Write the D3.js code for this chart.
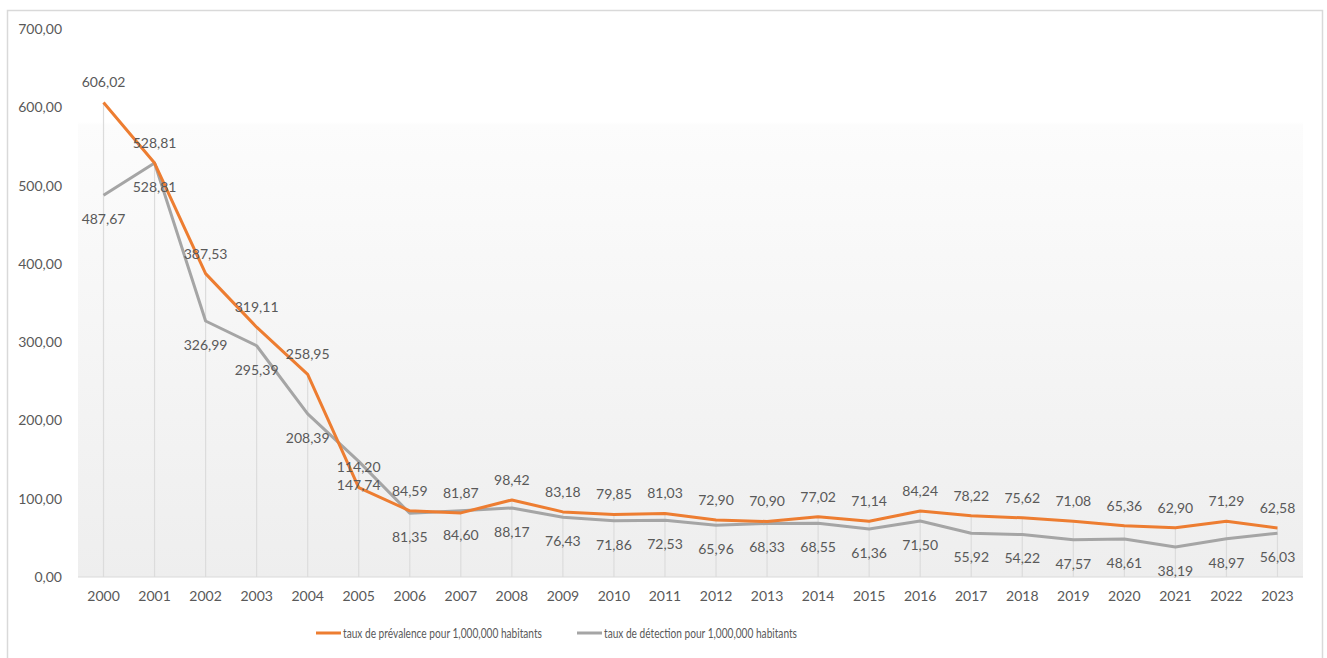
<!DOCTYPE html>
<html><head><meta charset="utf-8">
<script src="https://cdn.jsdelivr.net/npm/d3@7"></script>
<style>body{margin:0;background:#fff;}svg{display:block;font-family:Lato,"Open Sans",sans-serif;}</style>
</head><body><svg id="c" width="1327" height="658"></svg>
<script>
const years = ["2000","2001","2002","2003","2004","2005","2006","2007","2008","2009","2010","2011","2012","2013","2014","2015","2016","2017","2018","2019","2020","2021","2022","2023"];
const prevalence = [606.02,528.81,387.53,319.11,258.95,114.20,84.59,81.87,98.42,83.18,79.85,81.03,72.90,70.90,77.02,71.14,84.24,78.22,75.62,71.08,65.36,62.90,71.29,62.58];
const detection = [487.67,528.81,326.99,295.39,208.39,147.74,81.35,84.60,88.17,76.43,71.86,72.53,65.96,68.33,68.55,61.36,71.50,55.92,54.22,47.57,48.61,38.19,48.97,56.03];
const yTicks = [0,100,200,300,400,500,600,700];
const seriesNames = ["taux de prévalence pour 1,000,000 habitants","taux de détection pour 1,000,000 habitants"];
const colors = ["#ED7D31","#A5A5A5"];

(function(){
const svg = d3.select("#c");
const pl = 78, pr = 1303, pt = 29, pb = 577;
const x = d3.scaleBand().domain(years).range([pl, pr]);
const xc = d => x(d) + x.bandwidth()/2;
const y = d3.scaleLinear().domain([0,700]).range([pb, pt]);
const fmt = v => v.toFixed(2).replace(".", ",");
const textCol = "#595959";

svg.append("rect").attr("x",7.5).attr("y",10.5).attr("width",1315).attr("height",660)
  .attr("fill","#fff").attr("stroke","#d9d9d9").attr("stroke-width",1.5);

const defs = svg.append("defs");
const g = defs.append("linearGradient").attr("id","bg").attr("x1",0).attr("y1",0).attr("x2",0).attr("y2",1);
g.append("stop").attr("offset",0).attr("stop-color","#ffffff");
g.append("stop").attr("offset",0.17).attr("stop-color","#ffffff");
g.append("stop").attr("offset",0.175).attr("stop-color","#fcfcfc");
g.append("stop").attr("offset",1).attr("stop-color","#eeeeee");
svg.append("rect").attr("x",pl).attr("y",pt).attr("width",pr-pl).attr("height",pb-pt).attr("fill","url(#bg)");

svg.append("g").selectAll("line").data(years).join("line")
  .attr("x1",d=>xc(d)).attr("x2",d=>xc(d))
  .attr("y1",(d,i)=>y(Math.max(prevalence[i],detection[i]))).attr("y2",pb)
  .attr("stroke","#dcdcdc").attr("stroke-width",1.2);

svg.append("line").attr("x1",pl).attr("x2",pr).attr("y1",pb).attr("y2",pb)
  .attr("stroke","#d9d9d9").attr("stroke-width",1.2);

const ya = svg.append("g").attr("transform",`translate(62,0)`)
  .call(d3.axisLeft(y).tickValues(yTicks).tickFormat(fmt).tickSize(0).tickPadding(0));
ya.select(".domain").remove();
ya.selectAll("text").attr("fill",textCol).style("font-size","14px").style("font-family","Lato,'Open Sans',sans-serif");

const xa = svg.append("g").attr("transform",`translate(0,${pb})`)
  .call(d3.axisBottom(x).tickSize(0).tickPadding(14));
xa.select(".domain").remove();
xa.selectAll("text").attr("fill",textCol).style("font-size","14px").style("font-family","Lato,'Open Sans',sans-serif");

const line = d3.line().x((d,i)=>xc(years[i])).y(d=>y(d));
svg.append("path").datum(detection).attr("d",line).attr("fill","none")
  .attr("stroke",colors[1]).attr("stroke-width",3).attr("stroke-linejoin","round");
svg.append("path").datum(prevalence).attr("d",line).attr("fill","none")
  .attr("stroke",colors[0]).attr("stroke-width",3).attr("stroke-linejoin","round");

svg.append("g").selectAll("text").data(prevalence).join("text")
  .attr("x",(d,i)=>xc(years[i])).attr("y",d=>y(d)-20).attr("dy","0.35em")
  .attr("text-anchor","middle").attr("fill",textCol).style("font-size","14px").text(fmt);
svg.append("g").selectAll("text").data(detection).join("text")
  .attr("x",(d,i)=>xc(years[i])).attr("y",d=>y(d)+24).attr("dy","0.35em")
  .attr("text-anchor","middle").attr("fill",textCol).style("font-size","14px").text(fmt);

const leg = [[316,seriesNames[0],colors[0],199],[577,seriesNames[1],colors[1],193]];
leg.forEach(([lx,name,c,w])=>{
  svg.append("line").attr("x1",lx).attr("x2",lx+25).attr("y1",633).attr("y2",633).attr("stroke",c).attr("stroke-width",3);
  svg.append("text").attr("x",lx+27).attr("y",633).attr("dy","0.35em").attr("fill",textCol)
    .style("font-size","14px").attr("textLength",w).attr("lengthAdjust","spacingAndGlyphs").text(name);
});
})();
</script></body></html>
